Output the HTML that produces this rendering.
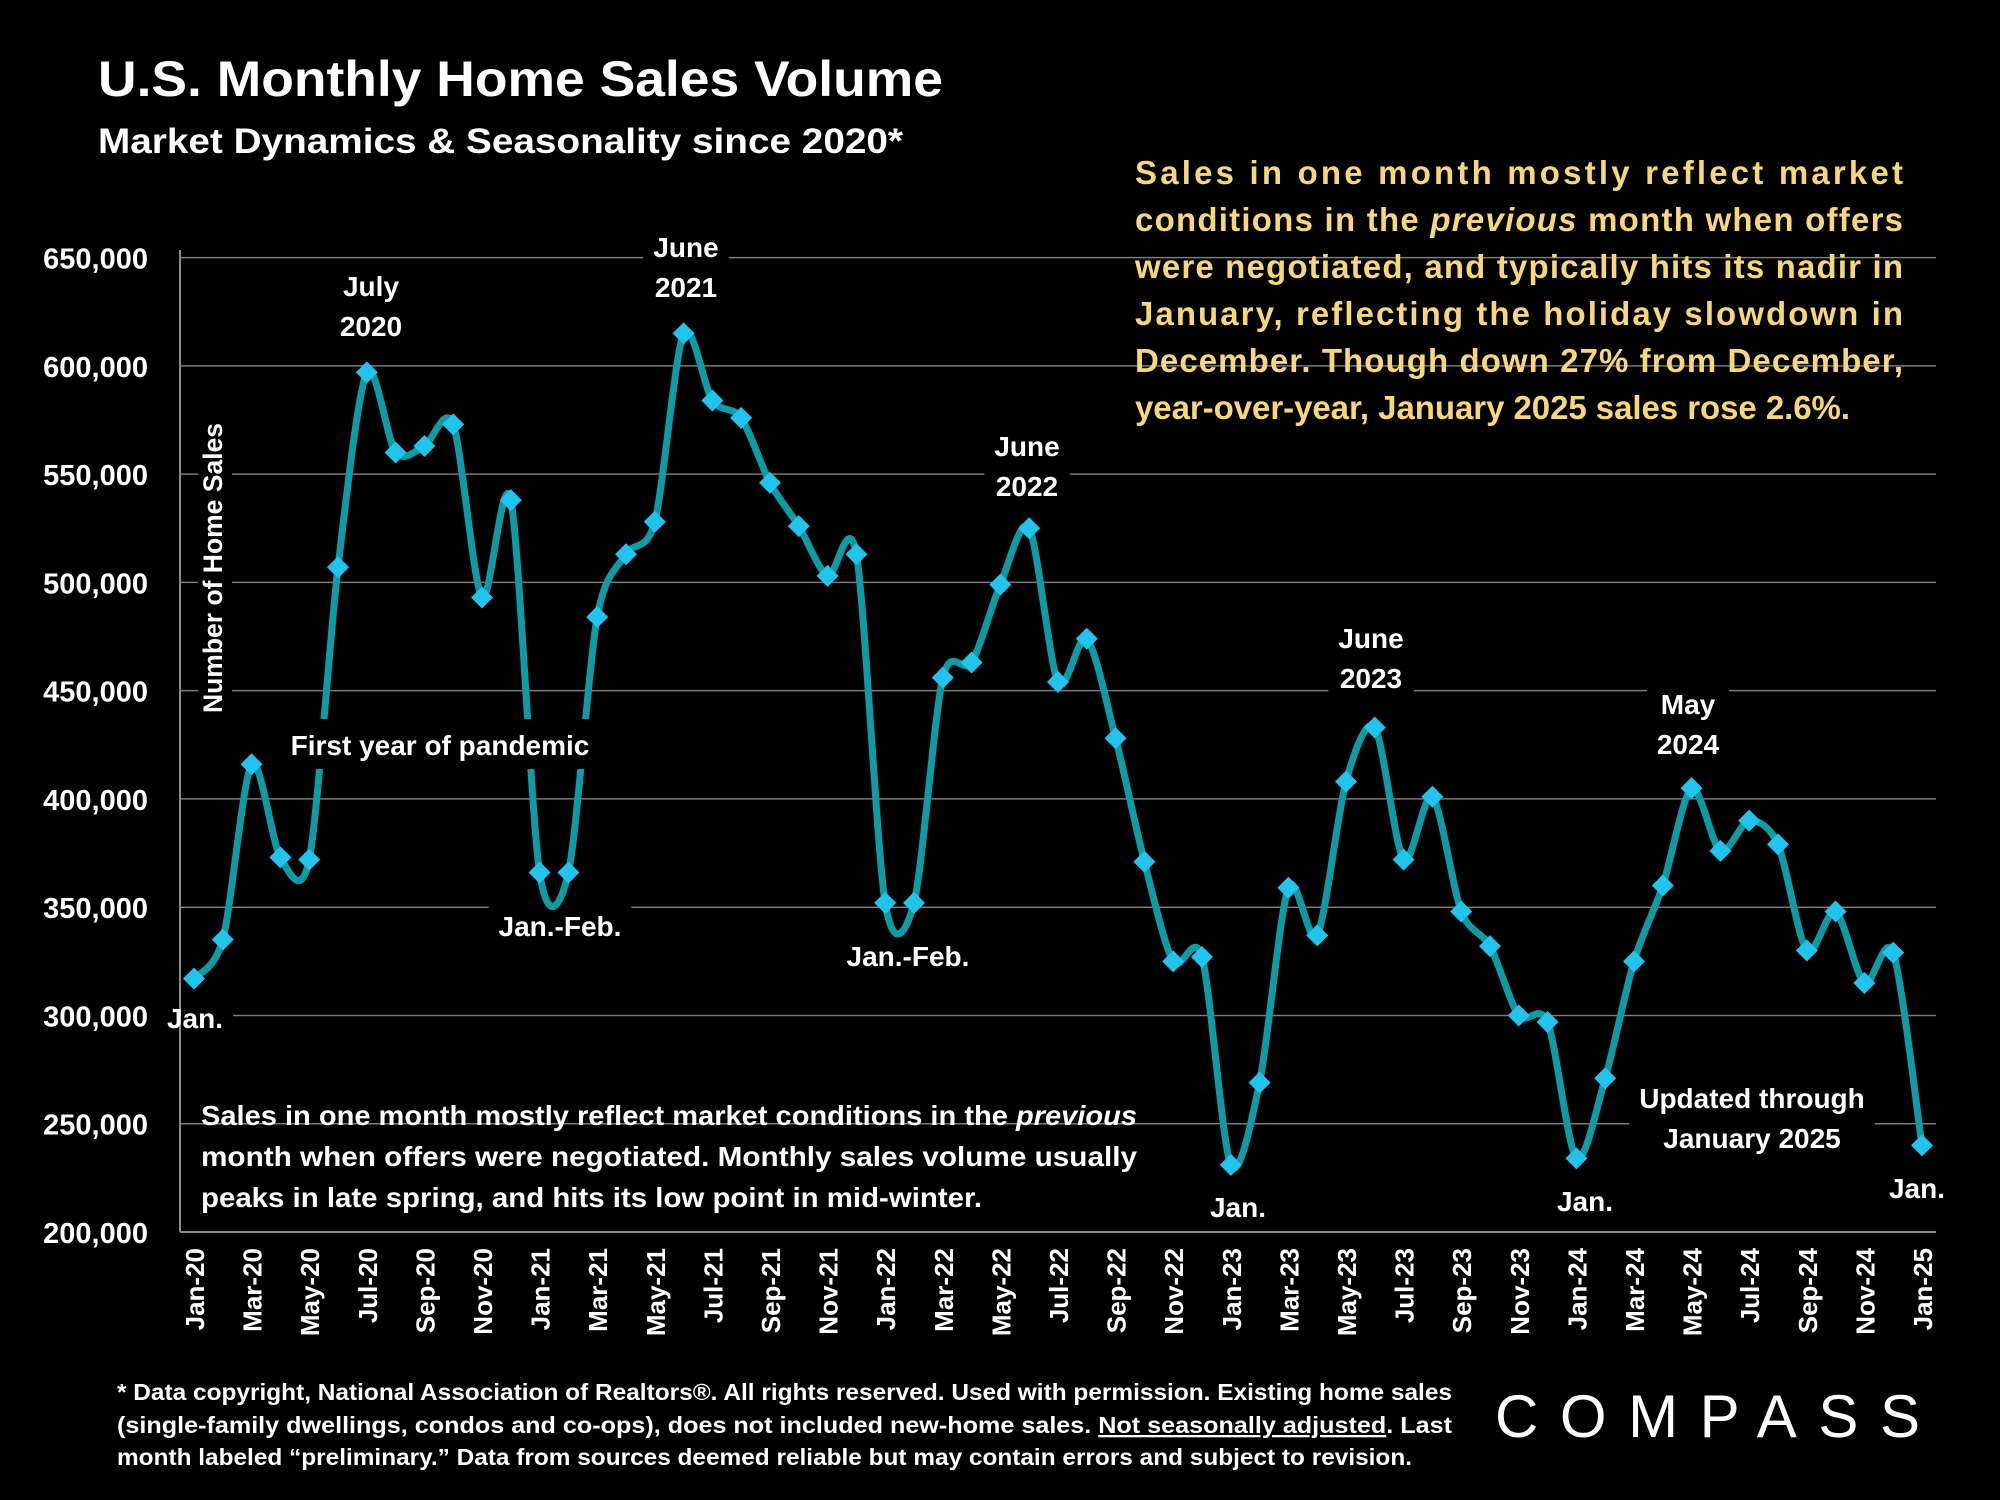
<!DOCTYPE html>
<html><head><meta charset="utf-8"><style>
html,body{margin:0;padding:0;background:#000;}
svg{display:block;font-family:"Liberation Sans",sans-serif;font-weight:bold;}
</style></head><body>
<svg id="chart" width="2000" height="1500" viewBox="0 0 2000 1500">
<rect width="2000" height="1500" fill="#000"/>
<text x="98" y="96" font-size="50" fill="#fff" textLength="845" lengthAdjust="spacingAndGlyphs">U.S. Monthly Home Sales Volume</text>
<text x="98" y="153" font-size="35" fill="#fff" textLength="805" lengthAdjust="spacingAndGlyphs">Market Dynamics &amp; Seasonality since 2020*</text>
<g id="grid"></g>
<g id="annbg"></g>
<g id="series"></g>
<g id="topbg"></g>
<g id="axes"></g>
<g id="ann"></g>
<g fill="#f7d77c" font-size="33">
<text x="1135" y="184" textLength="768" lengthAdjust="spacing">Sales in one month mostly reflect market</text>
<text x="1135" y="231" textLength="768" lengthAdjust="spacing">conditions in the <tspan font-style="italic">previous</tspan> month when offers</text>
<text x="1135" y="278" textLength="768" lengthAdjust="spacing">were negotiated, and typically hits its nadir in</text>
<text x="1135" y="325" textLength="768" lengthAdjust="spacing">January, reflecting the holiday slowdown in</text>
<text x="1135" y="372" textLength="768" lengthAdjust="spacing">December. Though down 27% from December,</text>
<text x="1135" y="419" textLength="715" lengthAdjust="spacing">year-over-year, January 2025 sales rose 2.6%.</text>
</g>
<g fill="#fff" font-size="28">
<text x="201" y="1125" textLength="936" lengthAdjust="spacingAndGlyphs">Sales in one month mostly reflect market conditions in the <tspan font-style="italic">previous</tspan></text>
<text x="201" y="1166" textLength="936" lengthAdjust="spacingAndGlyphs">month when offers were negotiated. Monthly sales volume usually</text>
<text x="201" y="1207" textLength="781" lengthAdjust="spacingAndGlyphs">peaks in late spring, and hits its low point in mid-winter.</text>
</g>
<g fill="#fff" font-size="23">
<text x="117" y="1400" textLength="1335" lengthAdjust="spacingAndGlyphs">* Data copyright, National Association of Realtors®. All rights reserved. Used with permission. Existing home sales</text>
<text x="117" y="1433" textLength="1335" lengthAdjust="spacingAndGlyphs">(single-family dwellings, condos and co-ops), does not included new-home sales. <tspan text-decoration="underline">Not seasonally adjusted</tspan>. Last</text>
<text x="117" y="1465" textLength="1295" lengthAdjust="spacingAndGlyphs">month labeled “preliminary.” Data from sources deemed reliable but may contain errors and subject to revision.</text>
</g>
<text x="1495" y="1437" font-size="60" fill="#fff" font-weight="normal" textLength="425" lengthAdjust="spacing">COMPASS</text>
</svg>
<script>
const months = ["Jan-20","Feb-20","Mar-20","Apr-20","May-20","Jun-20","Jul-20","Aug-20","Sep-20","Oct-20","Nov-20","Dec-20","Jan-21","Feb-21","Mar-21","Apr-21","May-21","Jun-21","Jul-21","Aug-21","Sep-21","Oct-21","Nov-21","Dec-21","Jan-22","Feb-22","Mar-22","Apr-22","May-22","Jun-22","Jul-22","Aug-22","Sep-22","Oct-22","Nov-22","Dec-22","Jan-23","Feb-23","Mar-23","Apr-23","May-23","Jun-23","Jul-23","Aug-23","Sep-23","Oct-23","Nov-23","Dec-23","Jan-24","Feb-24","Mar-24","Apr-24","May-24","Jun-24","Jul-24","Aug-24","Sep-24","Oct-24","Nov-24","Dec-24","Jan-25"];
const sales = [317000,335000,416000,373000,372000,507000,597000,560000,563000,573000,493000,538000,366000,366000,484000,513000,528000,615000,584000,576000,546000,526000,503000,513000,352000,352000,456000,463000,499000,525000,454000,474000,428000,371000,325000,327000,231000,269000,359000,337000,408000,433000,372000,401000,348000,332000,300000,297000,234000,271000,325000,360000,405000,376000,390000,379000,330000,348000,315000,329000,240000];
const yTicks = [200000,250000,300000,350000,400000,450000,500000,550000,600000,650000];
const yTickLabels = ["200,000","250,000","300,000","350,000","400,000","450,000","500,000","550,000","600,000","650,000"];

const NS="http://www.w3.org/2000/svg";
const X0=194, X1=1922, Y0=1232, Y1=257.6, VMIN=200000, VMAX=650000;
const xs = i => X0 + (X1-X0)*i/(months.length-1);
const ys = v => Y0 - (v-VMIN)/(VMAX-VMIN)*(Y0-Y1);
function mk(tag, attrs, parent){const e=document.createElementNS(NS,tag);for(const k in attrs)e.setAttribute(k,attrs[k]);parent.appendChild(e);return e;}
const grid=document.getElementById('grid'), axes=document.getElementById('axes'), series=document.getElementById('series'), ann=document.getElementById('ann'), annbg=document.getElementById('annbg'), topbg=document.getElementById('topbg');

yTicks.forEach((t,i)=>{
  if(i>0){const l=mk('line',{x1:180,x2:1936,y1:ys(t),y2:ys(t),stroke:'#7a7a7a','stroke-width':1.5},grid);
  
  }
  const tx=mk('text',{x:148,y:ys(t)+11,'text-anchor':'end','font-size':29,fill:'#fff'},axes);
  tx.textContent=yTickLabels[i];
  
  
});
const ax=mk('line',{x1:180,x2:180,y1:250,y2:Y0,stroke:'#8a8a8a','stroke-width':2},axes);


const bx=mk('line',{x1:180,x2:1936,y1:Y0,y2:Y0,stroke:'#8a8a8a','stroke-width':2},axes);


const ytb=mk('rect',{x:198,y:420,width:34,height:300,fill:'#000'},annbg);


const yt=mk('text',{x:0,y:0,transform:'translate(222,568) rotate(-90)','text-anchor':'middle','font-size':27,fill:'#fff',textLength:290,lengthAdjust:'spacingAndGlyphs'},axes);
yt.textContent='Number of Home Sales';



months.forEach((m,i)=>{
  if(i%2) return;
  const tx=mk('text',{x:0,y:0,transform:`translate(${xs(i)+10},1248) rotate(-90)`,'text-anchor':'end','font-size':26,fill:'#fff'},axes);
  tx.textContent=m;
  
  
});

const pts=sales.map((v,i)=>[xs(i),ys(v)]);
let d=`M${pts[0][0]},${pts[0][1]}`;
const K=7;
for(let i=0;i<pts.length-1;i++){
  const p0=pts[Math.max(0,i-1)],p1=pts[i],p2=pts[i+1],p3=pts[Math.min(pts.length-1,i+2)];
  const c1=[p1[0]+(p2[0]-p0[0])/K,p1[1]+(p2[1]-p0[1])/K];
  const c2=[p2[0]-(p3[0]-p1[0])/K,p2[1]-(p3[1]-p1[1])/K];
  d+=`C${c1[0]},${c1[1]} ${c2[0]},${c2[1]} ${p2[0]},${p2[1]}`;
}
const path=mk('path',{d:d,fill:'none',stroke:'#0e9ba3','stroke-width':7,'stroke-linejoin':'round'},series);


const markers=[];
pts.forEach(p=>{
  const r=11;
  const dm=mk('polygon',{points:`${p[0]},${p[1]-r} ${p[0]+r},${p[1]} ${p[0]},${p[1]+r} ${p[0]-r},${p[1]}`,fill:'#22c4ee'},series);
  
  
});

const notes=[
 [["July","2020"],371,296,0],[["June","2021"],686,257,0],[["June","2022"],1027,456,0],[["June","2023"],1371,648,0],[["May","2024"],1688,714,0],
 [["First year of pandemic"],440,755,1],[["Jan.-Feb."],560,936,0],[["Jan.-Feb."],908,966,0],
 [["Jan."],195,1028,0],[["Jan."],1238,1217,0],[["Jan."],1585,1211,0],[["Jan."],1917,1198,0],
 [["Updated through","January 2025"],1752,1108,0]
];
notes.forEach(n=>{
  const lines=n[0], lh=40;
  const texts=lines.map((s,j)=>{
    const t=mk('text',{x:n[1],y:n[2]+j*lh,'text-anchor':'middle','font-size':28,fill:'#fff'},ann);
    t.textContent=s;
    
    
    return t;
  });
  let w=0; texts.forEach(t=>{w=Math.max(w,t.getComputedTextLength());});
  w+=n[3]?8:20;
  const bg=mk('rect',{x:n[1]-w/2,y:n[2]-36,width:w,height:lh*(lines.length-1)+50,fill:'#000'},n[3]?topbg:annbg);
  
  
});
</script>
</body></html>
